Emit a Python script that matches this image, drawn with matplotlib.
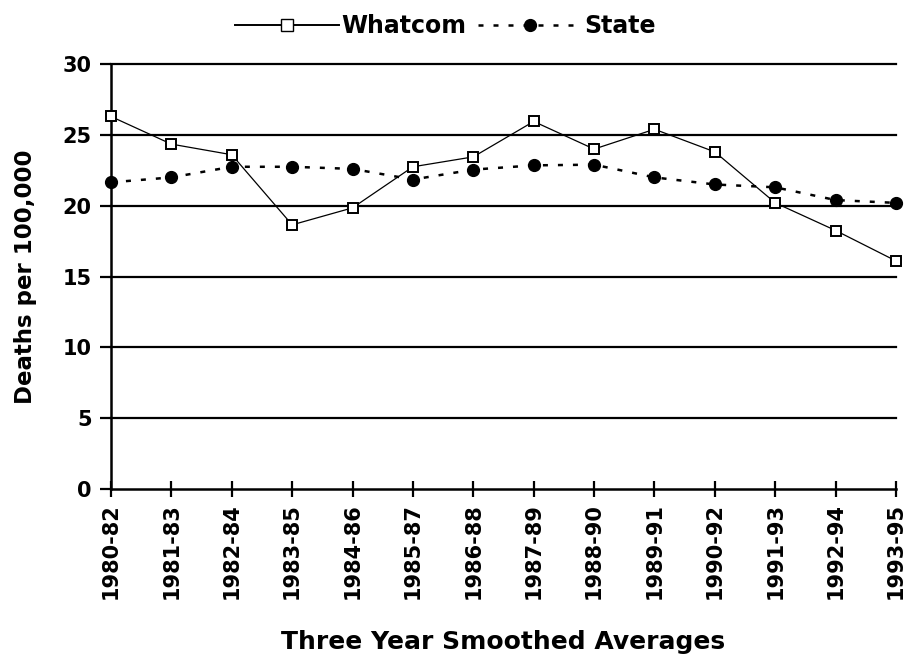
import matplotlib
matplotlib.use("Agg")
import matplotlib.pyplot as plt
from matplotlib.lines import Line2D

periods = ["1980-82", "1981-83", "1982-84", "1983-85", "1984-86", "1985-87", "1986-88",
           "1987-89", "1988-90", "1989-91", "1990-92", "1991-93", "1992-94", "1993-95"]
whatcom = [26.3, 24.35, 23.6, 18.65, 19.85, 22.75, 23.45, 25.95, 24.0, 25.4, 23.8, 20.2, 18.25, 16.1]
state = [21.65, 22.0, 22.75, 22.75, 22.6, 21.85, 22.55, 22.85, 22.9, 22.0, 21.5, 21.3, 20.4, 20.2]
yticks = [0, 5, 10, 15, 20, 25, 30]

plt.rcParams['font.family'] = ['DejaVu Sans']
plt.rcParams['font.weight'] = 'bold'

fig = plt.figure(figsize=(9.06, 6.54), dpi=100)
ax = fig.add_axes([0.1225, 0.2523, 0.8665, 0.6497])

x = list(range(len(periods)))
for yv in yticks[1:]:
    ax.axhline(yv, color='black', lw=1.6, zorder=1, clip_on=False)

ax.plot(x, whatcom, color='black', lw=0.9, marker='s', markersize=7.5,
        markerfacecolor='white', markeredgecolor='black', markeredgewidth=1.4, zorder=3, clip_on=False)
ax.plot(x, state, color='black', lw=1.8, linestyle=(0, (2, 4)), marker='o', markersize=8.5,
        markerfacecolor='black', markeredgecolor='black', zorder=2, clip_on=False)

ax.set_xlim(0, 13)
ax.set_ylim(0, 30)
ax.set_yticks(yticks)
ax.set_yticklabels([str(v) for v in yticks], fontsize=15, fontweight='bold')
ax.set_xticks(x)
ax.set_xticklabels(periods, rotation=90, fontsize=15, fontweight='bold')
ax.tick_params(axis='y', direction='out', length=8, width=1.6, pad=6)
ax.tick_params(axis='x', direction='inout', length=12, width=1.6, pad=4)

for s in ['top', 'right']:
    ax.spines[s].set_visible(False)
for s in ['left', 'bottom']:
    ax.spines[s].set_linewidth(1.8)

ax.set_ylabel("Deaths per 100,000", fontsize=16.5, fontweight='bold', labelpad=18)
ax.set_xlabel("Three Year Smoothed Averages", fontsize=18, fontweight='bold', labelpad=22)

handles = [
    Line2D([], [], color='black', lw=1.4, marker='s', markersize=8,
           markerfacecolor='white', markeredgecolor='black'),
    Line2D([], [], color='black', lw=1.8, linestyle=(0, (2, 4)), marker='o', markersize=8.5,
           markerfacecolor='black'),
]
fig.legend(handles, ["Whatcom", "State"], loc='center', bbox_to_anchor=(0.492, 0.96),
           ncol=2, frameon=False, prop={'weight': 'bold', 'size': 17},
           handlelength=4.4, handletextpad=0.1, columnspacing=0.5)

fig.savefig("out.png", dpi=100)
